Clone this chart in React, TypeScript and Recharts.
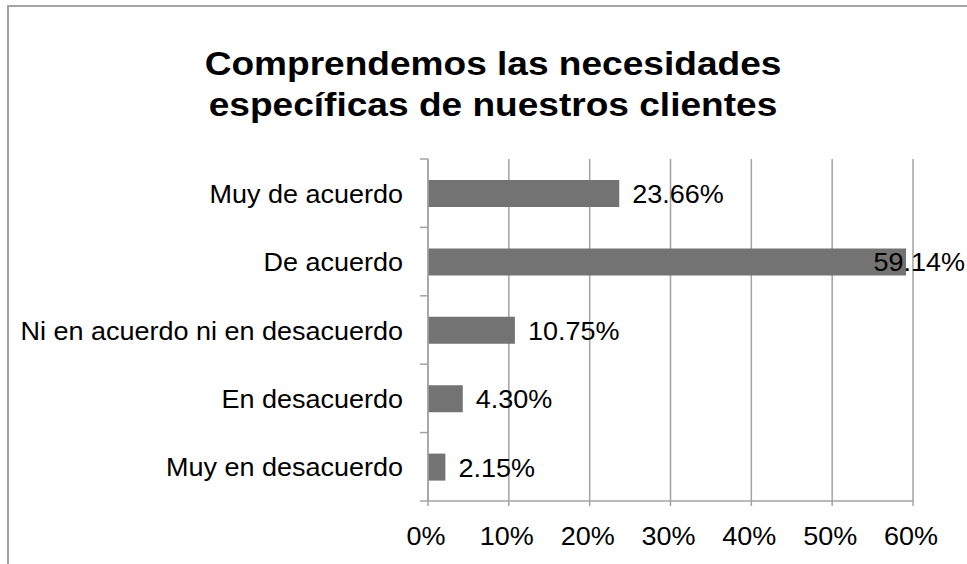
import React from 'react';
import { BarChart, Bar, XAxis, YAxis, CartesianGrid, LabelList } from 'recharts';

// Survey answers, top to bottom as in the chart
const categories = [
  'Muy de acuerdo',
  'De acuerdo',
  'Ni en acuerdo ni en desacuerdo',
  'En desacuerdo',
  'Muy en desacuerdo',
];
const shares = [0.2366, 0.5914, 0.1075, 0.043, 0.0215];
const xTicks = [0, 0.1, 0.2, 0.3, 0.4, 0.5, 0.6];
const titleLines = ['Comprendemos las necesidades', 'específicas de nuestros clientes'];

const data = categories.map((name, i) => ({ name, value: shares[i] }));

const FONT = '"Liberation Sans", Arial, sans-serif';
const GRID = '#a3a3a3';
const BAR = '#737373';
const W = 967;
const H = 564;
const FS = 25;
const SX = 1.08; // the source text is a bit wider than Arial at this height

// text stretched horizontally around its anchor point
const Wide = ({ x, y, anchor, children }: any) => (
  <text
    transform={`translate(${x},${y}) scale(${SX},1)`}
    textAnchor={anchor}
    fontFamily={FONT}
    fontSize={FS}
    fill="#000"
  >
    {children}
  </text>
);

// Category tick: label plus Excel-style marks on the band boundaries
const CategoryTick = (props: any) => {
  const { x, y, payload, index, visibleTicksCount } = props;
  const axisX = x + 26;
  const half = 342 / categories.length / 2;
  const last = index === (visibleTicksCount ?? categories.length) - 1;
  return (
    <g>
      <line x1={axisX - 8} x2={axisX} y1={y - half} y2={y - half} stroke={GRID} strokeWidth={1.5} />
      {last && (
        <line x1={axisX - 8} x2={axisX} y1={y + half} y2={y + half} stroke={GRID} strokeWidth={1.5} />
      )}
      <Wide x={x + 1} y={y + 9.5} anchor="end">
        {payload.value}
      </Wide>
    </g>
  );
};

const PercentTick = (props: any) => {
  const { x, y, payload } = props;
  return (
    <Wide x={x - 2} y={y + 18} anchor="middle">
      {`${Math.round(payload.value * 100)}%`}
    </Wide>
  );
};

const ValueLabel = (props: any) => {
  const { x, y, width, height, value } = props;
  const text = `${(value * 100).toFixed(2)}%`;
  const approxW = text.length * FS * 0.565 * SX;
  let lx = x + width + 13;
  let anchor = 'start';
  if (lx + approxW > W - 2) {
    lx = W - 2;
    anchor = 'end';
  }
  return (
    <Wide x={lx} y={y + height / 2 + 9.5} anchor={anchor}>
      {text}
    </Wide>
  );
};

export default function App() {
  return (
    <div style={{ position: 'absolute', left: 0, top: 0, width: W, height: H, background: '#fff', overflow: 'hidden' }}>
      {/* chart frame, cut off on the right and bottom */}
      <div
        style={{
          position: 'absolute',
          left: 7,
          top: 5,
          width: W + 20,
          height: H + 20,
          borderLeft: `2px solid ${GRID}`,
          borderTop: `2px solid ${GRID}`,
        }}
      />
      <div
        style={{
          position: 'absolute',
          left: 0,
          top: 43,
          width: 986,
          textAlign: 'center',
          fontFamily: FONT,
          fontWeight: 'bold',
          fontSize: 34,
          lineHeight: '41px',
          color: '#000',
          transform: 'scaleX(1.09)',
          transformOrigin: '493px 0',
        }}
      >
        {titleLines.map((l) => (
          <div key={l}>{l}</div>
        ))}
      </div>
      <div style={{ position: 'absolute', left: 0, top: 0 }}>
        <BarChart
          width={W}
          height={H}
          data={data}
          layout="vertical"
          margin={{ top: 159, right: 54, bottom: 0, left: 0 }}
          barSize={27}
        >
          <CartesianGrid horizontal={false} vertical stroke={GRID} strokeWidth={1.5} />
          <XAxis
            type="number"
            domain={[0, 0.6]}
            ticks={xTicks}
            height={63}
            tickSize={5}
            tickMargin={21}
            axisLine={{ stroke: GRID, strokeWidth: 1.5 }}
            tickLine={{ stroke: GRID, strokeWidth: 1.5 }}
            tick={<PercentTick />}
            interval={0}
          />
          <YAxis
            type="category"
            dataKey="name"
            width={428}
            tickSize={8}
            tickMargin={18}
            tickLine={false}
            axisLine={{ stroke: GRID, strokeWidth: 1.5 }}
            tick={<CategoryTick />}
            interval={0}
          />
          <Bar dataKey="value" fill={BAR} isAnimationActive={false}>
            <LabelList dataKey="value" content={<ValueLabel />} />
          </Bar>
        </BarChart>
      </div>
    </div>
  );
}
